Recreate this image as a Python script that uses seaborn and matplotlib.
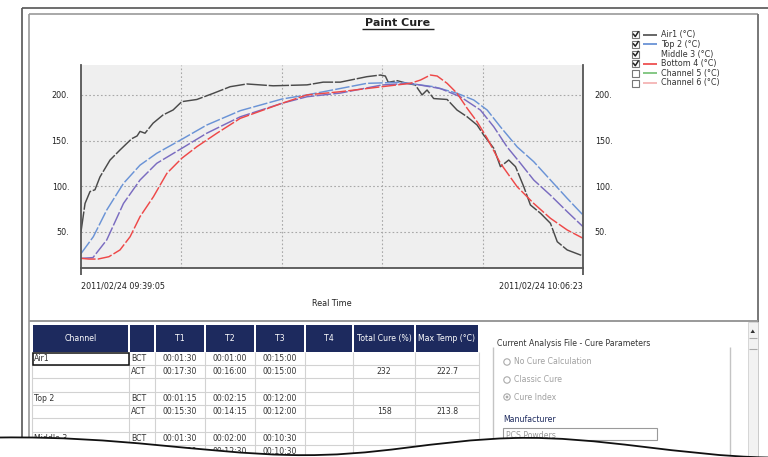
import numpy as np
import pandas as pd
import matplotlib
matplotlib.use("Agg")
import matplotlib.pyplot as plt
import seaborn as sns
from matplotlib.patches import Rectangle, Circle, PathPatch, Polygon
from matplotlib.path import Path
from matplotlib.ticker import FuncFormatter

# ---------------- data ----------------
total_minutes = 27.3            # 09:39:05 -> 10:06:23
start_label = "2011/02/24 09:39:05"
end_label = "2011/02/24 10:06:23"
title = "Paint Cure"
x_title = "Real Time"
y_ticks = [50, 100, 150, 200]

air1_t = [0, 0.22, 0.49, 0.76, 1.03, 1.58, 2.12, 2.76, 3.05, 3.21, 3.48, 3.92, 4.46, 5.01,
          5.48, 6.30, 7.19, 8.11, 9.02, 10.45, 12.29, 13.17, 14.10, 15.55, 16.28, 16.55,
          16.71, 17.19, 17.73, 18.18, 18.55, 18.82, 19.18, 19.91, 20.45, 21.00, 21.54,
          21.90, 22.45, 22.81, 23.26, 23.63, 24.08, 24.44, 24.99, 25.53, 25.90, 26.44, 27.3]
air1_v = [50, 81, 94, 96, 110, 128.6, 139.6, 152, 155, 160, 158, 169, 178, 183.5,
          192.6, 195, 201.7, 209, 212, 210, 211, 214, 214, 220, 221.8, 220.7,
          213.8, 215.6, 212.7, 210.9, 200, 205.4, 196, 195, 183.4, 176, 167,
          156, 141.4, 121.3, 128.6, 121.3, 99.3, 79.3, 70.2, 59.2, 39, 30, 23.4]

top2_t = [0, 0.67, 1.40, 2.31, 3.21, 4.12, 5.48, 6.84, 8.66, 10.93, 12.29, 13.83, 15.55,
          17.37, 19.18, 20.45, 21.36, 22.09, 22.81, 23.72, 24.62, 25.53, 26.44, 27.3]
top2_v = [26, 44.5, 73.8, 103, 123, 136, 151.3, 167, 182.7, 195.5, 200, 206, 212.7,
          213.8, 209, 201.8, 194.4, 183.4, 165, 143, 126.8, 106.7, 86.6, 68.3]

mid3_t = [0, 0.65, 1.40, 2.31, 3.21, 4.12, 5.48, 6.84, 8.66, 10.93, 12.29, 14.10, 16.37,
          17.91, 19.54, 20.63, 21.72, 22.45, 23.17, 23.90, 24.62, 25.53, 26.44, 27.3]
mid3_v = [20.8, 21.6, 41, 81, 106.7, 125, 141.4, 158, 176, 190.8, 198, 202, 210.9,
          212.7, 207, 198, 183.4, 165, 143, 125, 106.7, 90, 72, 55.5]

bot4_t = [0, 0.44, 0.92, 1.52, 2.12, 2.67, 3.21, 3.94, 4.67, 5.48, 6.30, 7.39, 8.66,
          10.93, 12.29, 14.10, 16.37, 17.91, 18.46, 19.00, 19.37, 19.91, 20.45, 21.00,
          21.54, 22.09, 22.81, 23.72, 24.62, 25.53, 26.44, 27.3]
bot4_v = [20.8, 20, 20, 22.6, 30, 44.5, 66.5, 88.4, 114, 130.5, 143.2, 158, 174.3,
          190.8, 200, 203.5, 209, 212.7, 216.3, 221.8, 220.7, 212.7, 201.8, 185.3,
          170.6, 152.4, 125, 99.3, 81, 64.7, 51.9, 42.8]

channel_names = ["Air1 (°C)", "Top 2 (°C)", "Middle 3 (°C)", "Bottom 4 (°C)",
                 "Channel 5 (°C)", "Channel 6 (°C)"]
channel_colors = ["#4a4a4a", "#6a93d6", "#7a6cc0", "#ee4848", "#7cc47c", "#f4b4b4"]
legend_colors = ["#5a5a5a", "#6a93d6", "none", "#ee5050", "#7cc47c", "#f4b4b4"]
channel_checked = [True, True, True, True, False, False]

table_columns = ["Channel", "", "T1", "T2", "T3", "T4", "Total Cure (%)", "Max Temp (°C)"]
table_rows = [
    ["Air1", "BCT", "00:01:30", "00:01:00", "00:15:00", "", "", ""],
    ["", "ACT", "00:17:30", "00:16:00", "00:15:00", "", "232", "222.7"],
    ["", "", "", "", "", "", "", ""],
    ["Top 2", "BCT", "00:01:15", "00:02:15", "00:12:00", "", "", ""],
    ["", "ACT", "00:15:30", "00:14:15", "00:12:00", "", "158", "213.8"],
    ["", "", "", "", "", "", "", ""],
    ["Middle 3", "BCT", "00:01:30", "00:02:00", "00:10:30", "", "", ""],
    ["", "ACT", "00:14:00", "00:12:30", "00:10:30", "", "", ""],
]
panel_title = "Current Analysis File - Cure Parameters"
radio_options = ["No Cure Calculation", "Classic Cure", "Cure Index"]
radio_selected = 2
manufacturer_label = "Manufacturer"
manufacturer_value = "PCS Powders"

# ---------------- figure ----------------
W, H = 768, 457
fig = plt.figure(figsize=(W / 100, H / 100), dpi=100)
fig.patch.set_facecolor("white")
plt.rcParams["font.family"] = ["DejaVu Sans"]

def fx(px):
    return px / W

def fy(py):
    return 1 - py / H

ax_l, ax_r, ax_t, ax_b = 81, 583, 65, 268
ax = fig.add_axes([fx(ax_l), fy(ax_b), fx(ax_r - ax_l), (ax_b - ax_t) / H])
ax.set_facecolor("#efefef")

series = [(air1_t, air1_v), (top2_t, top2_v), (mid3_t, mid3_v), (bot4_t, bot4_v)]
frames = []
for name, (t, v) in zip(channel_names, series):
    frames.append(pd.DataFrame({"time": t, "temp": v, "channel": name}))
df = pd.concat(frames, ignore_index=True)

dash_styles = [(0, (14, 1.2)), (0, (10, 1.5)), (0, (10, 1.5)), (0, (10, 1.5))]
for name, col, ls in zip(channel_names[:4], channel_colors[:4], dash_styles):
    sub = df[df["channel"] == name]
    sns.lineplot(data=sub, x="time", y="temp", color=col, linewidth=1.05,
                 linestyle=ls, estimator=None, sort=False, ax=ax, legend=False)

ax.set_xlim(0, total_minutes)
ax.set_ylim(10.2, 232.8)
ax.set_xticks([0, total_minutes])
ax.set_xticklabels([start_label, end_label])
xl = ax.get_xticklabels()
xl[0].set_ha("left")
xl[1].set_ha("right")
ax.set_xticks([total_minutes * k / 5 for k in range(1, 5)], minor=True)
ax.set_yticks(y_ticks)
ax.yaxis.set_major_formatter(FuncFormatter(lambda v, p: f"{v:.0f}."))
ax.tick_params(axis="x", which="major", length=5, width=1.3, color="#555555",
               labelsize=5.8, labelcolor="#222222", pad=5)
ax.tick_params(axis="x", which="minor", length=0)
ax.tick_params(axis="y", which="major", left=False, right=False, labelleft=True,
               labelright=True, labelsize=5.8, labelcolor="#222222", pad=5)
ax.grid(False)
ax.grid(which="major", axis="y", color="#a8a8a8", linestyle=(0, (1.5, 2)), linewidth=0.8)
ax.grid(which="minor", axis="x", color="#a8a8a8", linestyle=(0, (1.5, 2)), linewidth=0.8)
ax.set_axisbelow(True)
for s in ["left", "right", "bottom"]:
    ax.spines[s].set_color("#555555")
    ax.spines[s].set_linewidth(1.3)
ax.spines["top"].set_visible(False)
ax.set_xlabel(x_title, fontsize=5.8, color="#222222", labelpad=6)
ax.set_ylabel("")

# ---------------- overlay (window chrome, legend, table) ----------------
ov = fig.add_axes([0, 0, 1, 1], zorder=5)
ov.set_xlim(0, W)
ov.set_ylim(H, 0)
ov.axis("off")
ov.patch.set_alpha(0)

def line(xs, ys, c="#888888", lw=1.0, z=2):
    ov.plot(xs, ys, color=c, linewidth=lw, solid_capstyle="butt", zorder=z)

# window frame
line([22, 22], [7.5, 445], "#555555", 1.2)
line([28.5, 28.5], [14, 445], "#999999", 1.2)
line([22, 768], [7.5, 7.5], "#555555", 1.2)
line([28.5, 758], [14, 14], "#999999", 1.2)
line([758, 758], [14, 457], "#777777", 1.4)
line([28.5, 758], [321, 321], "#999999", 1.4)

# title
ov.text(398, 22.5, title, ha="center", va="center", fontsize=8, fontweight="bold",
        color="#222222")
line([362, 434], [29, 29], "#222222", 1.0)

# legend
leg_y = [34.5, 44.2, 54, 63.7, 73.4, 83]
for i, (lab, c, chk) in enumerate(zip(channel_names, legend_colors, channel_checked)):
    y = leg_y[i]
    ov.add_patch(Rectangle((632, y - 3.5), 7, 7, fc="white", ec="#777777", lw=0.8, zorder=3))
    if chk:
        ov.plot([633.5, 635.3, 638.2], [y - 0.3, y + 2.0, y - 2.6], color="#222222",
                lw=1.1, zorder=4)
    if c != "none":
        line([643, 657], [y, y], c, 1.3)
    ov.text(661, y, lab, ha="left", va="center", fontsize=5.8, color="#333333")

# table
col_x = [32, 129, 155, 205, 255, 305, 353, 415, 479]
head_top, head_bot = 325, 352
for i in range(len(table_columns)):
    x0, x1 = col_x[i], col_x[i + 1]
    ov.add_patch(Rectangle((x0 + 0.6, head_top), x1 - x0 - 1.2, head_bot - head_top,
                           fc="#1d2a5e", ec="none", zorder=2))
    ov.text((x0 + x1) / 2, (head_top + head_bot) / 2, table_columns[i], ha="center",
            va="center", fontsize=5.6, color="white", zorder=3)
row_y = [352, 365, 378, 392, 405, 418, 432, 445, 458]
for yy in row_y[1:]:
    line([32, 479], [yy, yy], "#d2d2d2", 0.8)
for xx in col_x:
    line([xx, xx], [352, 457], "#d2d2d2", 0.8)
for r, row in enumerate(table_rows):
    yc = (row_y[r] + row_y[r + 1]) / 2
    for c, val in enumerate(row):
        if not val:
            continue
        x0, x1 = col_x[c], col_x[c + 1]
        if c <= 1:
            ov.text(x0 + 2, yc, val, ha="left", va="center", fontsize=5.6, color="#333333")
        else:
            ov.text((x0 + x1) / 2, yc, val, ha="center", va="center", fontsize=5.6,
                    color="#333333")
ov.add_patch(Rectangle((32.5, 352.5), 96, 12.5, fc="none", ec="#111111", lw=1.1, zorder=3))

# parameters panel
ov.text(497, 343, panel_title, ha="left", va="center", fontsize=5.6, color="#333333")
line([493, 493], [347, 457], "#c4c4c4", 1.0)
line([730, 730], [347, 457], "#c4c4c4", 1.0)
for i, opt in enumerate(radio_options):
    y = [362, 380, 397][i]
    ov.add_patch(Circle((507, y), 3.2, fc="white", ec="#aaaaaa", lw=0.8, zorder=3))
    if i == radio_selected:
        ov.add_patch(Circle((507, y), 1.4, fc="#aaaaaa", ec="none", zorder=4))
    ov.text(514, y, opt, ha="left", va="center", fontsize=5.6, color="#a0a0a0")
ov.text(503, 420, manufacturer_label, ha="left", va="center", fontsize=5.6, color="#1d2a5e")
ov.add_patch(Rectangle((503, 428), 154, 12, fc="white", ec="#9a9a9a", lw=0.8, zorder=3))
ov.text(506, 436, manufacturer_value, ha="left", va="center", fontsize=5.6,
        color="#9a9a9a", zorder=4)

# scrollbar
ov.add_patch(Rectangle((748, 322), 9.5, 135, fc="#f2f2f2", ec="#d0d0d0", lw=0.6, zorder=2))
ov.add_patch(Polygon([[750.5, 333], [755, 333], [752.75, 329.5]], closed=True,
                     fc="#333333", ec="none", zorder=3))
line([749, 757], [338, 338], "#aaaaaa", 0.8)
line([749, 757], [349, 349], "#aaaaaa", 0.8)

# torn-paper edge
verts = [(0, 437.5),
         (120, 436), (200, 453), (290, 455),
         (380, 457), (430, 440), (515, 438),
         (600, 436), (680, 456), (768, 457.5),
         (775, 470), (-5, 470), (0, 437.5)]
codes = [Path.MOVETO,
         Path.CURVE4, Path.CURVE4, Path.CURVE4,
         Path.CURVE4, Path.CURVE4, Path.CURVE4,
         Path.CURVE4, Path.CURVE4, Path.CURVE4,
         Path.LINETO, Path.LINETO, Path.CLOSEPOLY]
ov.add_patch(PathPatch(Path(verts, codes), fc="white", ec="none", zorder=10))
edge = Path(verts[:10], codes[:10])
ov.add_patch(PathPatch(edge, fc="none", ec="#111111", lw=1.3, zorder=11))

fig.savefig("out.png", dpi=100, facecolor="white")
